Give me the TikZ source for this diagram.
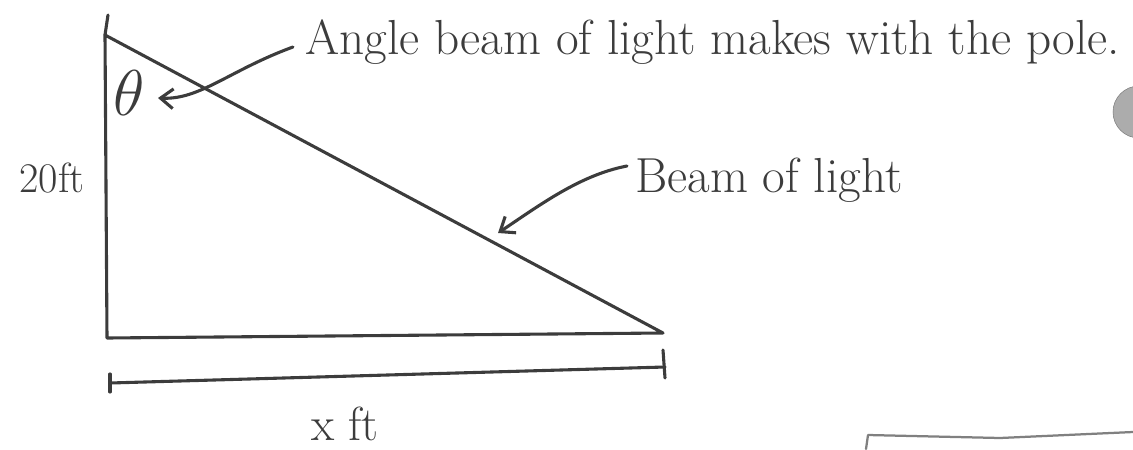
\documentclass[tikz,border=0pt]{standalone}
\usepackage{amsmath,amssymb}
\usepackage{tikz}
\usetikzlibrary{arrows.meta,calc,positioning}
\definecolor{pencil}{HTML}{3C3C3C}

\begin{document}
\begin{tikzpicture}[x=0.025cm,y=-0.025cm,
  pen/.style={pencil, line width=2.2pt, line cap=round, line join=round},
  note/.style={pencil, font=\fontsize{30}{36}\selectfont, inner sep=0pt},
  bignote/.style={note, font=\fontsize{35}{42}\selectfont},
  hook/.style={-{Straight Barb[length=9pt,width=14pt]}}]
\useasboundingbox (0,0) rectangle (1133,449);
% corners of the triangle
\coordinate (top) at (105,35);
\coordinate (base) at (107,338);
\coordinate (tip) at (663,333);
\draw[pen] (top) -- (base) -- (tip) -- cycle;
\draw[pen] (top) -- ++(3,-20);
% labels
\node[note] (pole) at (52,178) {20ft};
\node[note] (theta) at (129,93) {\scalebox{1.85}{$\theta$}};
\node[bignote, anchor=west] (angle) at (305,42) {Angle beam of light makes with the pole.};
\node[bignote, anchor=west] (beam) at (635,180) {Beam of light};
\node[note, font=\fontsize{34}{40}\selectfont] (xlen) at (345,424) {x ft};
% pointers
\draw[pen, hook] (angle.west) ++(-12,5) .. controls (230,70) and (200,100) .. (158,98);
\draw[pen, hook] (beam.west) ++(-8,-14) .. controls (580,175) and (540,205) .. (498,233);
% dimension line
\coordinate (dl) at (110,383);
\coordinate (dr) at (665,367);
\draw[pen] (dl) -- (dr);
\draw[pen] (dl) ++(0,-9) -- ++(0,18);
\draw[pen] (dr) ++(-2,-17) -- ++(2,28);
% stray marks
\draw[pen, line width=1.6pt, gray] (866,449) -- (868,435) -- (1000,438) -- (1133,432);
\fill[gray!65, draw=gray] (1139,112) circle (26);
\end{tikzpicture}
\end{document}
